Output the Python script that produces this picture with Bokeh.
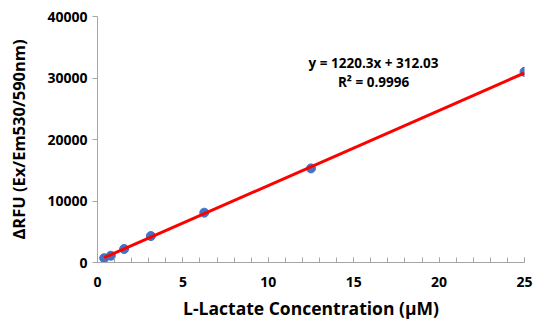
from bokeh.plotting import figure
from bokeh.models import Range1d, SingleIntervalTicker, Label
from bokeh.embed import file_html
from bokeh.resources import INLINE

conc = [0.39, 0.78, 1.56, 3.125, 6.25, 12.5, 25.0]
rfu = [700, 1100, 2200, 4300, 8100, 15300, 31000]
slope = 1220.3
intercept = 312.03
eq_text = "y = 1220.3x + 312.03"
r2_text = "R² = 0.9996"
x_label = "L-Lactate Concentration (µM)"
y_label = "ΔRFU (Ex/Em530/590nm)"

FONT = "Open Sans"
p = figure(width=535, height=324, output_backend="svg", toolbar_location=None,
           x_range=Range1d(0, 25), y_range=Range1d(0, 40000),
           min_border_left=97, min_border_right=11, min_border_top=16, min_border_bottom=62)
p.outline_line_color = None
p.xgrid.visible = False
p.ygrid.visible = False

p.scatter(conc, rfu, size=9, color="#4472C4")
fx = [conc[0], conc[-1]]
fy = [slope * v + intercept for v in fx]
p.line(fx, fy, line_color="#FF0000", line_width=3)

for ax in (p.xaxis[0], p.yaxis[0]):
    ax.axis_line_color = "#A6A6A6"
    ax.major_tick_line_color = "#A6A6A6"
    ax.minor_tick_line_color = "#A6A6A6"
    ax.major_label_text_font = FONT
    ax.major_label_text_font_style = "bold"
    ax.major_label_text_font_size = "14px"
    ax.major_label_text_color = "black"
    ax.axis_label_text_font = FONT
    ax.axis_label_text_font_style = "bold"
    ax.axis_label_text_color = "black"

p.xaxis.ticker = SingleIntervalTicker(interval=5, num_minor_ticks=5)
p.xaxis.major_tick_in = 5
p.xaxis.major_tick_out = 0
p.xaxis.minor_tick_in = 5
p.xaxis.minor_tick_out = 0
p.xaxis.major_label_standoff = 14
p.xaxis.axis_label = x_label
p.xaxis.axis_label_text_font_size = "17.5px"
p.xaxis.axis_label_standoff = 6

p.yaxis.ticker = SingleIntervalTicker(interval=10000, num_minor_ticks=0)
p.yaxis.major_tick_in = 0
p.yaxis.major_tick_out = 5
p.yaxis.minor_tick_in = 0
p.yaxis.minor_tick_out = 0
p.yaxis.major_label_standoff = 5
p.yaxis.axis_label = y_label
p.yaxis.axis_label_text_font_size = "16.5px"
p.yaxis.axis_label_standoff = 14

for txt, yy in ((eq_text, 32520), (r2_text, 29430)):
    p.add_layout(Label(x=16.16, y=yy, text=txt, text_align="center", text_baseline="middle",
                       text_font=FONT, text_font_style="bold", text_font_size="13.5px",
                       text_color="black"))

open("out.html", "w").write(file_html(p, INLINE))
